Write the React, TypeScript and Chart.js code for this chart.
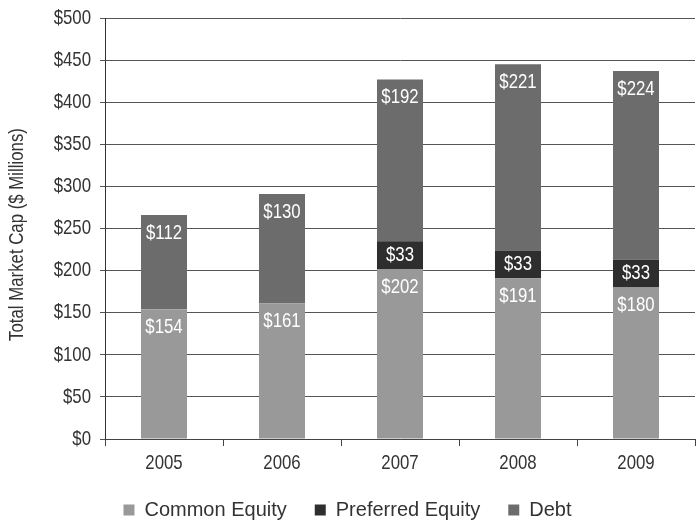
import React, { useEffect, useRef } from "react";
import { Chart, registerables } from "chart.js";

Chart.register(...registerables);

// Capital structure by year ($ millions)
const years = ["2005", "2006", "2007", "2008", "2009"];
const commonEquity = [154, 161, 202, 191, 180];
const preferredEquity = [0, 0, 33, 33, 33];
const debt = [112, 130, 192, 221, 224];

const seriesNames = ["Common Equity", "Preferred Equity", "Debt"];
const seriesColors = ["#999999", "#2e2e2e", "#6c6c6c"];
// where each series prints its value inside the segment
const labelAnchors = ["top", "middle", "top"];

const Y_MAX = 500;
const Y_STEP = 50;
const Y_TITLE = "Total Market Cap ($ Millions)";

const SANS = '"Liberation Sans", Arial, sans-serif';
const TEXT = "#333333";
const SQUEEZE = 0.8;

// draw text squeezed horizontally, imitating a narrow typeface
function narrowText(
  ctx: CanvasRenderingContext2D,
  text: string,
  x: number,
  y: number,
  size: number,
  align: CanvasTextAlign,
  color: string,
  rotate = 0
) {
  ctx.save();
  ctx.font = `${size}px ${SANS}`;
  ctx.fillStyle = color;
  ctx.textAlign = align;
  ctx.textBaseline = "middle";
  ctx.translate(x, y);
  if (rotate) ctx.rotate(rotate);
  ctx.scale(SQUEEZE, 1);
  ctx.fillText(text, 0, 0);
  ctx.restore();
}

// value labels inside each stacked segment
const segmentLabels = {
  id: "segmentLabels",
  afterDatasetsDraw(chart: any) {
    const ctx = chart.ctx;
    chart.data.datasets.forEach((ds: any, di: number) => {
      const meta = chart.getDatasetMeta(di);
      meta.data.forEach((bar: any, i: number) => {
        const v = ds.data[i];
        if (!v) return;
        const { x, y, base } = bar.getProps(["x", "y", "base"], true);
        const ty = labelAnchors[di] === "middle" ? (y + base) / 2 : y + 18;
        narrowText(ctx, "$" + v, x, ty, 21, "center", "#ffffff");
      });
    });
  },
};

// axis tick labels and the y title, placed from the scales' own tick positions
const axisText = {
  id: "axisText",
  afterDraw(chart: any) {
    const ctx = chart.ctx;
    const { x, y } = chart.scales;
    y.ticks.forEach((t: any, i: number) => {
      narrowText(ctx, "$" + t.value, y.right - 14, y.getPixelForTick(i), 21, "right", TEXT);
    });
    x.ticks.forEach((t: any, i: number) => {
      narrowText(ctx, String(x.getLabelForValue(t.value)), x.getPixelForTick(i), x.top + 24, 21, "center", TEXT);
    });
    narrowText(ctx, Y_TITLE, y.left + 17, (y.top + y.bottom) / 2 + 6, 21, "center", TEXT, -Math.PI / 2);
  },
};

export default function App() {
  const canvasRef = useRef<HTMLCanvasElement | null>(null);

  useEffect(() => {
    if (!canvasRef.current) return;
    const values = [commonEquity, preferredEquity, debt];
    const chart = new Chart(canvasRef.current, {
      type: "bar",
      data: {
        labels: years,
        datasets: values.map((data, i) => ({
          label: seriesNames[i],
          data,
          backgroundColor: seriesColors[i],
          borderWidth: 0,
          categoryPercentage: 1,
          barPercentage: 0.39,
        })),
      },
      options: {
        responsive: false,
        animation: false,
        devicePixelRatio: 1,
        layout: { padding: { top: 18, right: 3, bottom: -7, left: 0 } },
        plugins: {
          tooltip: { enabled: false },
          legend: {
            position: "bottom",
            labels: {
              boxWidth: 11,
              boxHeight: 11,
              padding: 28,
              color: TEXT,
              font: { family: SANS, size: 20 },
            },
          },
        },
        scales: {
          x: {
            stacked: true,
            grid: {
              offset: true,
              drawOnChartArea: false,
              drawTicks: true,
              tickLength: 7,
              color: "#444444",
            },
            border: { color: "#444444" },
            ticks: { display: false },
            afterFit: (s: any) => {
              s.height = 33;
            },
          },
          y: {
            stacked: true,
            min: 0,
            max: Y_MAX,
            grid: { color: "#555555", tickLength: 5 },
            border: { color: "#333333" },
            ticks: { stepSize: Y_STEP, display: false },
            afterFit: (s: any) => {
              s.width = 105;
            },
          },
        },
      },
      plugins: [segmentLabels, axisText],
    } as any);
    return () => chart.destroy();
  }, []);

  return (
    <div style={{ position: "fixed", left: 0, top: 0, width: 698, height: 523, background: "#ffffff" }}>
      <canvas ref={canvasRef} width={698} height={523} style={{ width: 698, height: 523, display: "block" }} />
    </div>
  );
}
